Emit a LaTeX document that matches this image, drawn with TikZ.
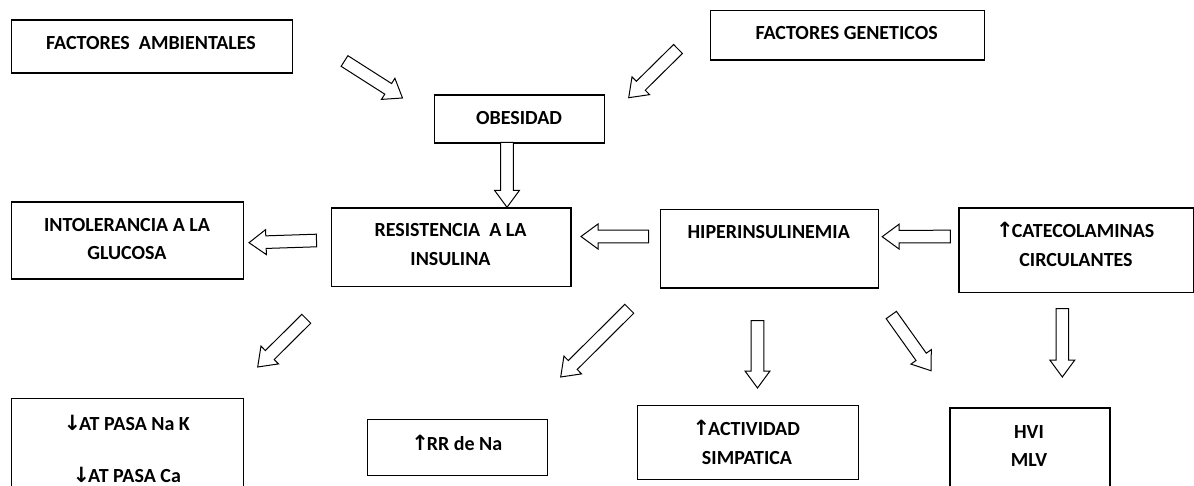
\documentclass[tikz,border=0pt]{standalone}
\usepackage{fontspec}
\setmainfont{Carlito}
\newfontfamily\arrowfont{DejaVu Sans}
\usetikzlibrary{calc}
\newcommand\upar{{\arrowfont\bfseries\fontsize{21}{21}\selectfont\kern-1.5pt↑\kern-2pt}}
\newcommand\dnar{{\arrowfont\bfseries\fontsize{21}{21}\selectfont\kern-1.5pt↓\kern-2pt}}
\newcommand\blkarr[2]{%
  \coordinate (bah) at ($(#2)!17pt!(#1)$);
  \draw[blk] ($(#1)!6.3pt!90:(#2)$) -- ($(bah)!6.3pt!-90:(#1)$) -- ($(bah)!12.5pt!-90:(#1)$) -- (#2)
    -- ($(bah)!12.5pt!90:(#1)$) -- ($(bah)!6.3pt!90:(#1)$) -- ($(#1)!6.3pt!-90:(#2)$) -- cycle;}
\begin{document}
\begin{tikzpicture}[x=1pt,y=-1pt,
  box/.style={draw=black, line width=1.3pt, fill=white, inner sep=0pt, anchor=north west},
  lbl/.style={font=\bfseries\fontsize{20}{28.5}\selectfont, align=center, inner sep=0pt},
  blk/.style={draw=black, line width=1pt, fill=white, line join=miter}]
\useasboundingbox (0,0) rectangle (1194,486);
\clip (0,0) rectangle (1194,486);
% boxes
\node[box, minimum width=281.3pt, minimum height=53pt] (amb) at (10.7,19.3) {};
\node[box, minimum width=274pt, minimum height=49.3pt] (gen) at (709.7,10) {};
\node[box, minimum width=170.3pt, minimum height=48pt] (obes) at (433.7,94.3) {};
\node[box, minimum width=239.3pt, minimum height=78.4pt] (res) at (331,207.3) {};
\node[box, minimum width=232pt, minimum height=77pt] (intol) at (10.7,201.3) {};
\node[box, minimum width=218pt, minimum height=78.3pt] (hiper) at (659.7,209) {};
\node[box, minimum width=234.4pt, minimum height=84.7pt] (cat) at (958.3,207.3) {};
\node[box, minimum width=232.3pt, minimum height=110pt] (atp) at (10.7,398) {};
\node[box, minimum width=180.3pt, minimum height=55.7pt] (rr) at (366.7,419) {};
\node[box, minimum width=220.7pt, minimum height=74.3pt] (act) at (637,404.7) {};
\node[box, minimum width=160pt, minimum height=85pt] (hvi) at (949.3,407.3) {};
% texts
\node[lbl] (ambt) at (151,43.3) {FACTORES\ \ AMBIENTALES};
\node[lbl] (gent) at (846.7,33.3) {FACTORES GENETICOS};
\node[lbl] (obest) at (519,118.3) {OBESIDAD};
\node[lbl] (rest) at (450.5,244.5) {RESISTENCIA\ \ A LA\\INSULINA};
\node[lbl] (intolt) at (127,239) {INTOLERANCIA A LA\\GLUCOSA};
\node[lbl] (hipert) at (768.7,232) {HIPERINSULINEMIA};
\node[lbl] (catt) at (1076,244.5) {\upar CATECOLAMINAS\\CIRCULANTES};
\node[lbl] (atpt) at (127.5,449.2) {\dnar AT PASA Na K\\[23.8pt]\dnar AT PASA Ca};
\node[lbl] (rrt) at (457.5,443) {\upar RR de Na};
\node[lbl] (actt) at (747,442.2) {\upar ACTIVIDAD\\SIMPATICA};
\node[lbl] (hvit) at (1029,445.8) {HVI\\MLV};
% arrow end points
\coordinate (a1s) at (344.5,61);   \coordinate (a1e) at (402.5,98);
\coordinate (a2s) at (678,49);     \coordinate (a2e) at (628.7,97.7);
\coordinate (a3s) at (507,142.3);  \coordinate (a3e) at (507,207.3);
\coordinate (a4s) at (316.5,240.5);\coordinate (a4e) at (249,242.7);
\coordinate (a5s) at (648.5,236.5);\coordinate (a5e) at (581,236.5);
\coordinate (a6s) at (950.4,236.5);\coordinate (a6e) at (882.2,236.7);
\coordinate (a7s) at (306.3,318.8);\coordinate (a7e) at (257.7,367);
\coordinate (a8s) at (629.3,308.8);\coordinate (a8e) at (560.7,377);
\coordinate (a9s) at (757.5,320.7);\coordinate (a9e) at (757.5,388);
\coordinate (a10s) at (891.3,315); \coordinate (a10e) at (931,370.7);
\coordinate (a11s) at (1062.3,308.7);\coordinate (a11e) at (1062.3,377);
% block arrows
\blkarr{a1s}{a1e}
\blkarr{a2s}{a2e}
\blkarr{a3s}{a3e}
\blkarr{a4s}{a4e}
\blkarr{a5s}{a5e}
\blkarr{a6s}{a6e}
\blkarr{a7s}{a7e}
\blkarr{a8s}{a8e}
\blkarr{a9s}{a9e}
\blkarr{a10s}{a10e}
\blkarr{a11s}{a11e}
\end{tikzpicture}
\end{document}
